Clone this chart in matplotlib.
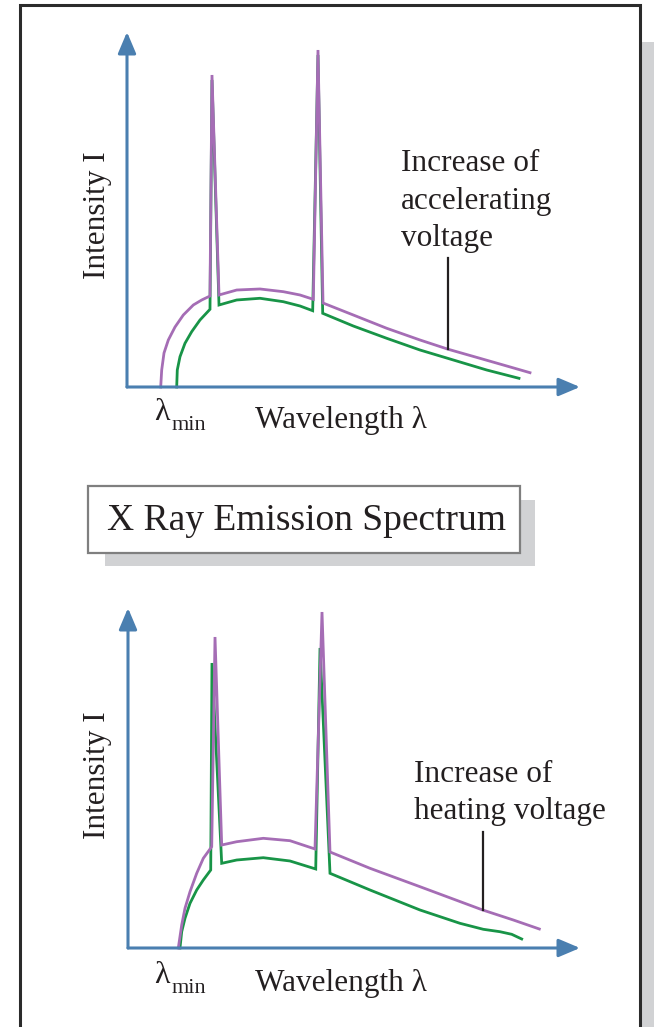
import matplotlib
matplotlib.use('Agg')
import matplotlib.pyplot as plt
from matplotlib.patches import Rectangle

## colours
axis_blue = '#4a7fb0'
purple = '#a56db5'
green = '#189447'
ink = '#231f20'

plt.rcParams['font.family'] = ['Liberation Serif', 'DejaVu Serif']

## top chart: increase of accelerating voltage (arbitrary units, 0..10)
acc_hi_wl = [0.744, 0.766, 0.817, 0.912, 1.060, 1.243, 1.464, 1.649, 1.832, 1.876, 2.031,
             2.422, 2.936, 3.450, 3.819, 4.113, 4.216, 4.327, 4.996, 5.733, 6.468, 7.093,
             7.792, 8.382, 8.896]
acc_hi_int = [0.000, 0.479, 0.958, 1.324, 1.690, 2.028, 2.310, 2.451, 2.563, 8.789, 2.592,
              2.732, 2.761, 2.685, 2.592, 2.470, 9.493, 2.366, 2.028, 1.654, 1.324, 1.062,
              0.808, 0.592, 0.403]
acc_lo_wl = [1.097, 1.110, 1.170, 1.280, 1.428, 1.611, 1.832, 1.876, 2.031, 2.422, 2.936,
             3.450, 3.819, 4.099, 4.216, 4.320, 4.996, 5.733, 6.468, 7.203, 7.940, 8.653]
acc_lo_int = [0.000, 0.479, 0.854, 1.231, 1.558, 1.887, 2.189, 8.648, 2.310, 2.451, 2.499,
              2.403, 2.282, 2.149, 9.352, 2.076, 1.718, 1.372, 1.042, 0.761, 0.479, 0.245]

## bottom chart: increase of heating voltage
heat_hi_wl = [1.113, 1.188, 1.261, 1.372, 1.520, 1.666, 1.852, 1.925, 2.073, 2.405, 2.993,
              3.584, 4.137, 4.292, 4.469, 5.354, 6.460, 7.847, 8.524, 9.100]
heat_hi_int = [0.000, 0.676, 1.168, 1.656, 2.197, 2.638, 2.979, 9.147, 3.029, 3.126, 3.226,
               3.156, 2.912, 9.882, 2.824, 2.344, 1.803, 1.118, 0.824, 0.559]
heat_lo_wl = [1.150, 1.188, 1.261, 1.372, 1.520, 1.666, 1.830, 1.858, 2.073, 2.405, 2.993,
              3.584, 4.153, 4.248, 4.469, 5.354, 6.460, 7.345, 7.861, 8.230, 8.489, 8.710]
heat_lo_int = [0.000, 0.479, 0.874, 1.315, 1.706, 2.000, 2.294, 8.382, 2.491, 2.588, 2.656,
               2.559, 2.324, 8.824, 2.197, 1.706, 1.118, 0.726, 0.550, 0.479, 0.403, 0.265]

W, H = 654, 1027
fig = plt.figure(figsize=(W / 100, H / 100), dpi=100)

## background layer in pixel units (frame, title box, labels)
bg = fig.add_axes([0, 0, 1, 1])
bg.set_xlim(0, W)
bg.set_ylim(H, 0)
bg.axis('off')
bg.add_patch(Rectangle((35, 42), 640, 1050, facecolor='#d1d2d4', edgecolor='none'))
bg.add_patch(Rectangle((20, 5), 620, 1050, facecolor='white', edgecolor='#2b2b2b', lw=2.2))
bg.add_patch(Rectangle((105, 500), 430, 66, facecolor='#d1d2d4', edgecolor='none'))
bg.add_patch(Rectangle((88, 486), 432, 67, facecolor='white', edgecolor='#7f7f7f', lw=1.6))
bg.text(307, 521, 'X Ray Emission Spectrum', fontsize=27, color=ink, ha='center', va='center')


def panel(rect, hi, lo, note, note_xy, pointer, ylab_y, lab_y):
    ax = fig.add_axes(rect)
    ax.set_xlim(0, 10)
    ax.set_ylim(0, 10)
    ax.axis('off')
    arrow = dict(arrowstyle='-|>,head_length=1.3,head_width=0.55', color=axis_blue,
                 lw=2.2, shrinkA=0, shrinkB=0)
    ax.annotate('', xy=(10, 0), xytext=(0, 0), arrowprops=arrow, annotation_clip=False)
    ax.annotate('', xy=(0, 10), xytext=(0, 0), arrowprops=arrow, annotation_clip=False)
    ax.plot(lo[0], lo[1], color=green, lw=2.0, clip_on=False, solid_joinstyle='miter')
    ax.plot(hi[0], hi[1], color=purple, lw=2.0, clip_on=False, solid_joinstyle='miter')
    ax.plot([pointer[0], pointer[0]], [pointer[1], pointer[2]], color=ink, lw=1.6)
    bg.text(note_xy[0], note_xy[1], note, fontsize=22.5, color=ink, ha='left', va='center',
            linespacing=1.4)
    bg.text(97, ylab_y, 'Intensity I', fontsize=22.5, color=ink, rotation=90,
            ha='center', va='center')
    bg.text(255, lab_y, 'Wavelength λ', fontsize=22.5, color=ink, ha='left', va='baseline')
    bg.text(154, lab_y - 8, 'λ', fontsize=23, color=ink, ha='left', va='baseline')
    bg.text(172, lab_y + 2, 'min', fontsize=16, color=ink, ha='left', va='baseline')


panel([127 / W, 1 - 387 / H, 453 / W, 355 / H],
      (acc_hi_wl, acc_hi_int), (acc_lo_wl, acc_lo_int),
      'Increase of\naccelerating\nvoltage', (401, 201), (7.09, 1.06, 3.63), 215, 428)

panel([128 / W, 1 - 948 / H, 452 / W, 340 / H],
      (heat_hi_wl, heat_hi_int), (heat_lo_wl, heat_lo_int),
      'Increase of\nheating voltage', (414, 793), (7.85, 1.12, 3.41), 775, 991)

fig.savefig('out.png', dpi=100)
